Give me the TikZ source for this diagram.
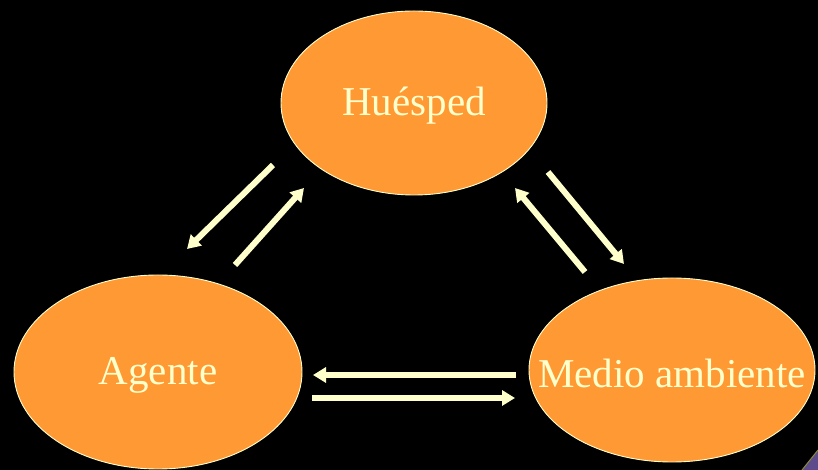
\documentclass[tikz,border=0pt]{standalone}
\usepackage{fontspec}
\setmainfont{Liberation Serif}
\usetikzlibrary{shapes.geometric,arrows.meta}
\definecolor{bg}{HTML}{000000}
\definecolor{orng}{HTML}{FF9933}
\definecolor{pale}{HTML}{FFFFCC}
\definecolor{purp}{HTML}{5E4B8B}
\definecolor{olive}{HTML}{8A8A3A}
\tikzset{
  blob/.style={ellipse, fill=orng, draw=pale, line width=0.9pt, inner sep=0pt},
  blobtext/.style={text=pale, inner sep=0pt, font=\fontsize{41}{45}\selectfont, yshift=-3pt},
  flow/.style={draw=pale, line width=6pt, -{Triangle[length=13pt,width=15pt]}}
}
\begin{document}
\begin{tikzpicture}[x=1pt,y=1pt]
\fill[bg] (0,0) rectangle (818,470);
\useasboundingbox (0,0) rectangle (818,470);
% corner decoration
\fill[purp] (802,0) -- (818,0) -- (818,20) -- cycle;
\draw[olive, line width=1pt] (802,0) -- (818,20);
\node[blob, minimum width=266pt, minimum height=184pt] (H) at (414,367) {};
\node[blob, minimum width=288pt, minimum height=194pt] (A) at (158,98) {};
\node[blob, minimum width=286pt, minimum height=184pt] (M) at (672,100) {};
\node[blobtext] (Ht) at (H.center) {Huésped};
\node[blobtext] (At) at (A.center) {Agente};
\node[blobtext] (Mt) at (M.center) {Medio ambiente};
% arrow endpoints
\coordinate (h1s) at (273,305); \coordinate (h1e) at (187,221);
\coordinate (a1s) at (235,205); \coordinate (a1e) at (304,282);
\coordinate (m1s) at (585,198); \coordinate (m1e) at (515,282);
\coordinate (h2s) at (548,298); \coordinate (h2e) at (624,206);
\coordinate (m2s) at (516,95);  \coordinate (m2e) at (313,95);
\coordinate (a2s) at (312,72);  \coordinate (a2e) at (515,72);
\draw[flow] (h1s) -- (h1e);
\draw[flow] (a1s) -- (a1e);
\draw[flow] (m1s) -- (m1e);
\draw[flow] (h2s) -- (h2e);
\draw[flow] (m2s) -- (m2e);
\draw[flow] (a2s) -- (a2e);
\end{tikzpicture}
\end{document}
